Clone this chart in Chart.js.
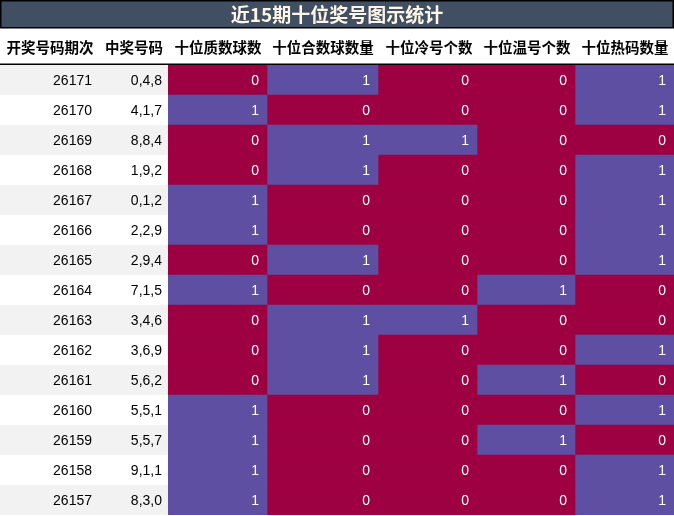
<!DOCTYPE html><html><head><meta charset="utf-8">
<script src="https://cdn.jsdelivr.net/npm/chart.js@4/dist/chart.umd.min.js"></script>
<style>html,body{margin:0;padding:0;background:#fff}#w{width:674px;height:516px;position:relative}</style>
</head><body><div id="w"><canvas id="c"></canvas></div>
<script>
const title = "近15期十位奖号图示统计";
const headers = ["开奖号码期次","中奖号码","十位质数球数","十位合数球数量","十位冷号个数","十位温号个数","十位热码数量"];
const issues = ["26171","26170","26169","26168","26167","26166","26165","26164","26163","26162","26161","26160","26159","26158","26157"];
const numbers = ["0,4,8","4,1,7","8,8,4","1,9,2","0,1,2","2,2,9","2,9,4","7,1,5","3,4,6","3,6,9","5,6,2","5,5,1","5,5,7","9,1,1","8,3,0"];
const primeCnt = [0,1,0,0,1,1,0,1,0,0,0,1,1,1,1];
const compCnt  = [1,0,1,1,0,0,1,0,1,1,1,0,0,0,0];
const coldCnt  = [0,0,1,0,0,0,0,0,1,0,0,0,0,0,0];
const warmCnt  = [0,0,0,0,0,0,0,1,0,0,1,0,1,0,0];
const hotCnt   = [1,1,0,1,1,1,1,0,0,1,0,1,0,1,1];
const cols = [primeCnt,compCnt,coldCnt,warmCnt,hotCnt];
const colEdges = [0,99,210,309,407,506];
const RED="#9e0142", PURPLE="#5e4fa2";
const datasets = cols.map((arr,ci)=>({
  data: arr.map((v,ri)=>({x:[colEdges[ci],colEdges[ci+1]], y:issues[ri], v})),
  backgroundColor: arr.map(v=>v>=1?PURPLE:RED),
  borderWidth:0, barPercentage:1, categoryPercentage:1, grouped:false
}));
const FONT='"Noto Sans CJK SC","Liberation Sans",sans-serif';
const drawPlugin={id:'tbl',
 beforeDatasetsDraw(ch){const c=ch.ctx,y=ch.scales.y;c.save();
  issues.forEach((s,i)=>{const yc=y.getPixelForValue(i);if(i%2===0){c.fillStyle="#f2f2f2";c.fillRect(0,yc-15,168,30);}});
  c.restore();},
 afterDatasetsDraw(ch){const c=ch.ctx,x=ch.scales.x,y=ch.scales.y;c.save();
  c.fillStyle="#404f61";c.fillRect(0,0,674,28);c.strokeStyle="#000";c.lineWidth=1.5;c.strokeRect(0.75,0.75,672.5,27);
  c.fillStyle="#fdf5e6";c.font='bold 19px '+FONT;c.textAlign="center";c.textBaseline="middle";c.fillText(title,337,15);
  c.fillStyle="#000";c.font='bold 14.5px '+FONT;
  const hx=[50,134,218,323,429,527,625];
  headers.forEach((h,i)=>c.fillText(h,hx[i],47));
  c.fillRect(0,63.5,674,1.5);
  c.font='14px "Liberation Sans",sans-serif';c.textAlign="right";
  issues.forEach((s,i)=>{const yc=y.getPixelForValue(i)+1;c.fillStyle="#000";c.fillText(s,92,yc);c.fillText(numbers[i],162,yc);
   cols.forEach((arr,ci)=>{c.fillStyle="#fff";c.fillText(String(arr[i]),x.getPixelForValue(colEdges[ci+1])-8,yc);});});
  c.restore();}};
new Chart(document.getElementById('c'),{type:'bar',
 data:{labels:issues,datasets},
 options:{indexAxis:'y',responsive:true,maintainAspectRatio:false,animation:false,
  layout:{padding:{top:65,left:168,right:0,bottom:1}},
  plugins:{legend:{display:false},tooltip:{enabled:false}},
  scales:{x:{type:'linear',min:0,max:506,display:false},y:{display:false,offset:true}}},
 plugins:[drawPlugin]});
</script></body></html>
